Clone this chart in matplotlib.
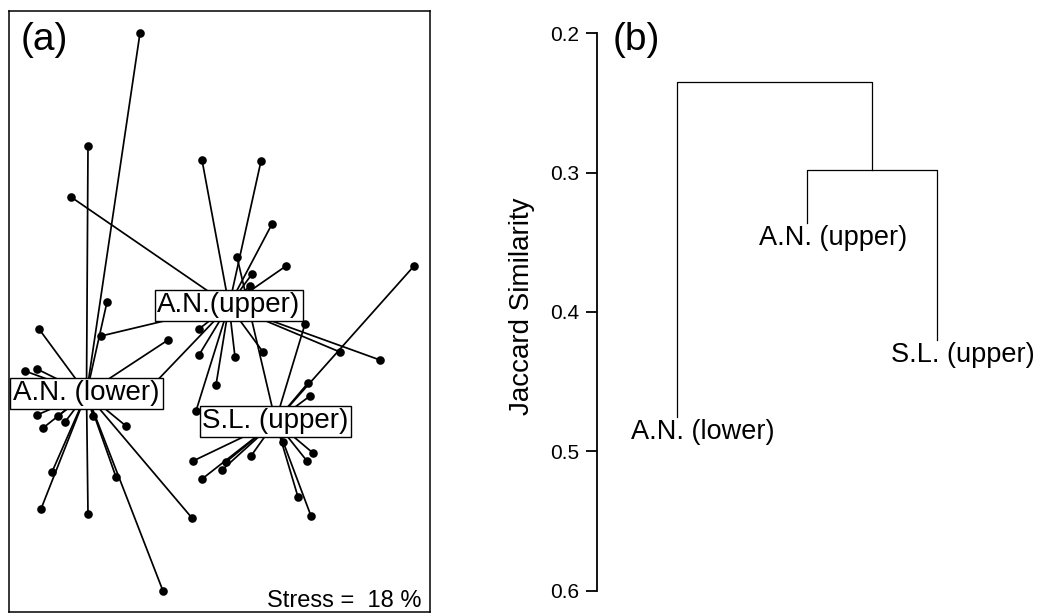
"""
Two-panel community figure:
  (a) NMDS spider plot of sites grouped by zone, with group centroids
  (b) UPGMA-style dendrogram of the three zones on Jaccard similarity
Writes out.png (1038 x 613 px).
"""

import matplotlib
matplotlib.use("Agg")
import matplotlib.pyplot as plt

plt.rcParams["font.family"] = ["Liberation Sans", "DejaVu Sans"]

W, H, DPI = 1038, 613, 100

# ---- (a) NMDS site scores -------------------------------------------------- #
lower_x = [-0.400, -0.660, -0.565, -0.905, -0.260, -0.975, -0.915, -0.915,
           -0.810, -0.775, -0.885, -0.635, -0.470, -0.840, -0.895, -0.660,
           -0.520, -0.140, -0.285]
lower_y = [1.835, 1.270, 0.490, 0.355, 0.300, 0.145, 0.155, -0.075,
           -0.080, -0.110, -0.140, -0.080, -0.130, -0.360, -0.545, -0.570,
           -0.385, -0.590, -0.955]

upper_x = [-0.745, -0.090, 0.205, 0.260, 0.330, 0.160, 0.150, -0.595,
           -0.105, -0.105, 0.075, 0.215, -0.020, -0.120, 0.600, 0.800, -0.350]
upper_y = [1.015, 1.200, 1.195, 0.880, 0.670, 0.630, 0.570, 0.320,
           0.355, 0.225, 0.215, 0.240, 0.075, -0.055, 0.240, 0.200, 0.060]

sl_x = [0.085, 0.425, 0.970, 0.440, 0.450, -0.135, 0.030, 0.010,
        -0.090, 0.155, 0.315, 0.465, 0.435, 0.390, 0.455]
sl_y = [0.715, 0.380, 0.670, 0.085, 0.020, -0.305, -0.310, -0.350,
        -0.395, -0.280, -0.210, -0.265, -0.305, -0.485, -0.580]

group_names = ["A.N. (lower)", "A.N.(upper)", "S.L. (upper)"]
centroid_x = [-0.6675, 0.045, 0.2775]
centroid_y = [0.0325, 0.4725, -0.1075]
stress_pct = 18

# ---- (b) dendrogram -------------------------------------------------------- #
leaf_labels = ["A.N. (lower)", "A.N. (upper)", "S.L. (upper)"]
leaf_ends = [0.475, 0.336, 0.420]     # where each leaf line stops
merge_inner = 0.298                   # A.N.(upper) + S.L.(upper)
merge_root = 0.235                    # + A.N.(lower)
sim_ticks = [0.2, 0.3, 0.4, 0.5, 0.6]

FS_LAB = 20


def px_ax(fig, x0, y0, x1, y1):
    """axes from pixel box (top-left origin)"""
    return fig.add_axes([x0 / W, 1 - y1 / H, (x1 - x0) / W, (y1 - y0) / H])


def spider(ax, xs, ys, cx, cy):
    for x, y in zip(xs, ys):
        ax.plot([cx, x], [cy, y], color="black", lw=1.25, zorder=1)
    ax.plot(xs, ys, "o", color="black", ms=6.2, mew=0, zorder=2)


def main():
    fig = plt.figure(figsize=(W / DPI, H / DPI), dpi=DPI)

    # ---- panel (a) --------------------------------------------------------- #
    ax = px_ax(fig, 9, 11, 430, 612)
    groups = [(lower_x, lower_y), (upper_x, upper_y), (sl_x, sl_y)]
    for (xs, ys), cx, cy in zip(groups, centroid_x, centroid_y):
        spider(ax, xs, ys, cx, cy)
    for name, cx, cy in zip(group_names, centroid_x, centroid_y):
        ax.text(cx, cy, name, ha="center", va="center", fontsize=FS_LAB, zorder=3,
                bbox=dict(boxstyle="square,pad=0.1", fc="white", ec="black", lw=1.0))
    ax.set_xlim(-1.055, 1.050)
    ax.set_ylim(-1.060, 1.945)
    ax.set_xticks([]); ax.set_yticks([])
    for s in ax.spines.values():
        s.set_linewidth(1.1)
    ax.text(0.027, 0.982, "(a)", transform=ax.transAxes, ha="left", va="top",
            fontsize=28)
    ax.text(0.979, 0.008, f"Stress =  {stress_pct} %", transform=ax.transAxes,
            ha="right", va="baseline", fontsize=17)

    # ---- panel (b) --------------------------------------------------------- #
    bx = px_ax(fig, 597, 33.3, 1038, 590.7)
    xs = [1, 2, 3]
    c = dict(color="black", lw=0.9, solid_capstyle="projecting")
    mid = (xs[1] + xs[2]) / 2
    bx.plot([xs[1], xs[1], xs[2], xs[2]],
            [leaf_ends[1], merge_inner, merge_inner, leaf_ends[2]], **c)
    bx.plot([xs[0], xs[0], mid, mid],
            [leaf_ends[0], merge_root, merge_root, merge_inner], **c)
    for x, y, lab in zip(xs, leaf_ends, leaf_labels):
        bx.annotate(lab, (x, y), xytext=(19, -1.5), textcoords="offset points",
                    ha="center", va="top", fontsize=FS_LAB - 0.5)
    bx.set_xlim(0.387, 3.779)
    bx.set_ylim(0.6, 0.2)
    bx.set_yticks(sim_ticks)
    bx.set_yticklabels([f"{t:.1f}" for t in sim_ticks])
    bx.set_xticks([])
    for side in ("top", "right", "bottom"):
        bx.spines[side].set_visible(False)
    bx.spines["left"].set_linewidth(1.3)
    bx.spines["left"].set_bounds(0.2, 0.6)
    bx.tick_params(axis="y", length=8, width=1.3, pad=5, labelsize=15)
    bx.patch.set_alpha(0)
    fig.text(521.7 / W, 1 - 306 / H, "Jaccard Similarity", rotation=90,
             ha="center", va="center", fontsize=20)
    fig.text(613 / W, 1 - 22 / H, "(b)", ha="left", va="top", fontsize=28)

    fig.savefig("out.png", dpi=DPI)
    plt.close(fig)


if __name__ == "__main__":
    main()
